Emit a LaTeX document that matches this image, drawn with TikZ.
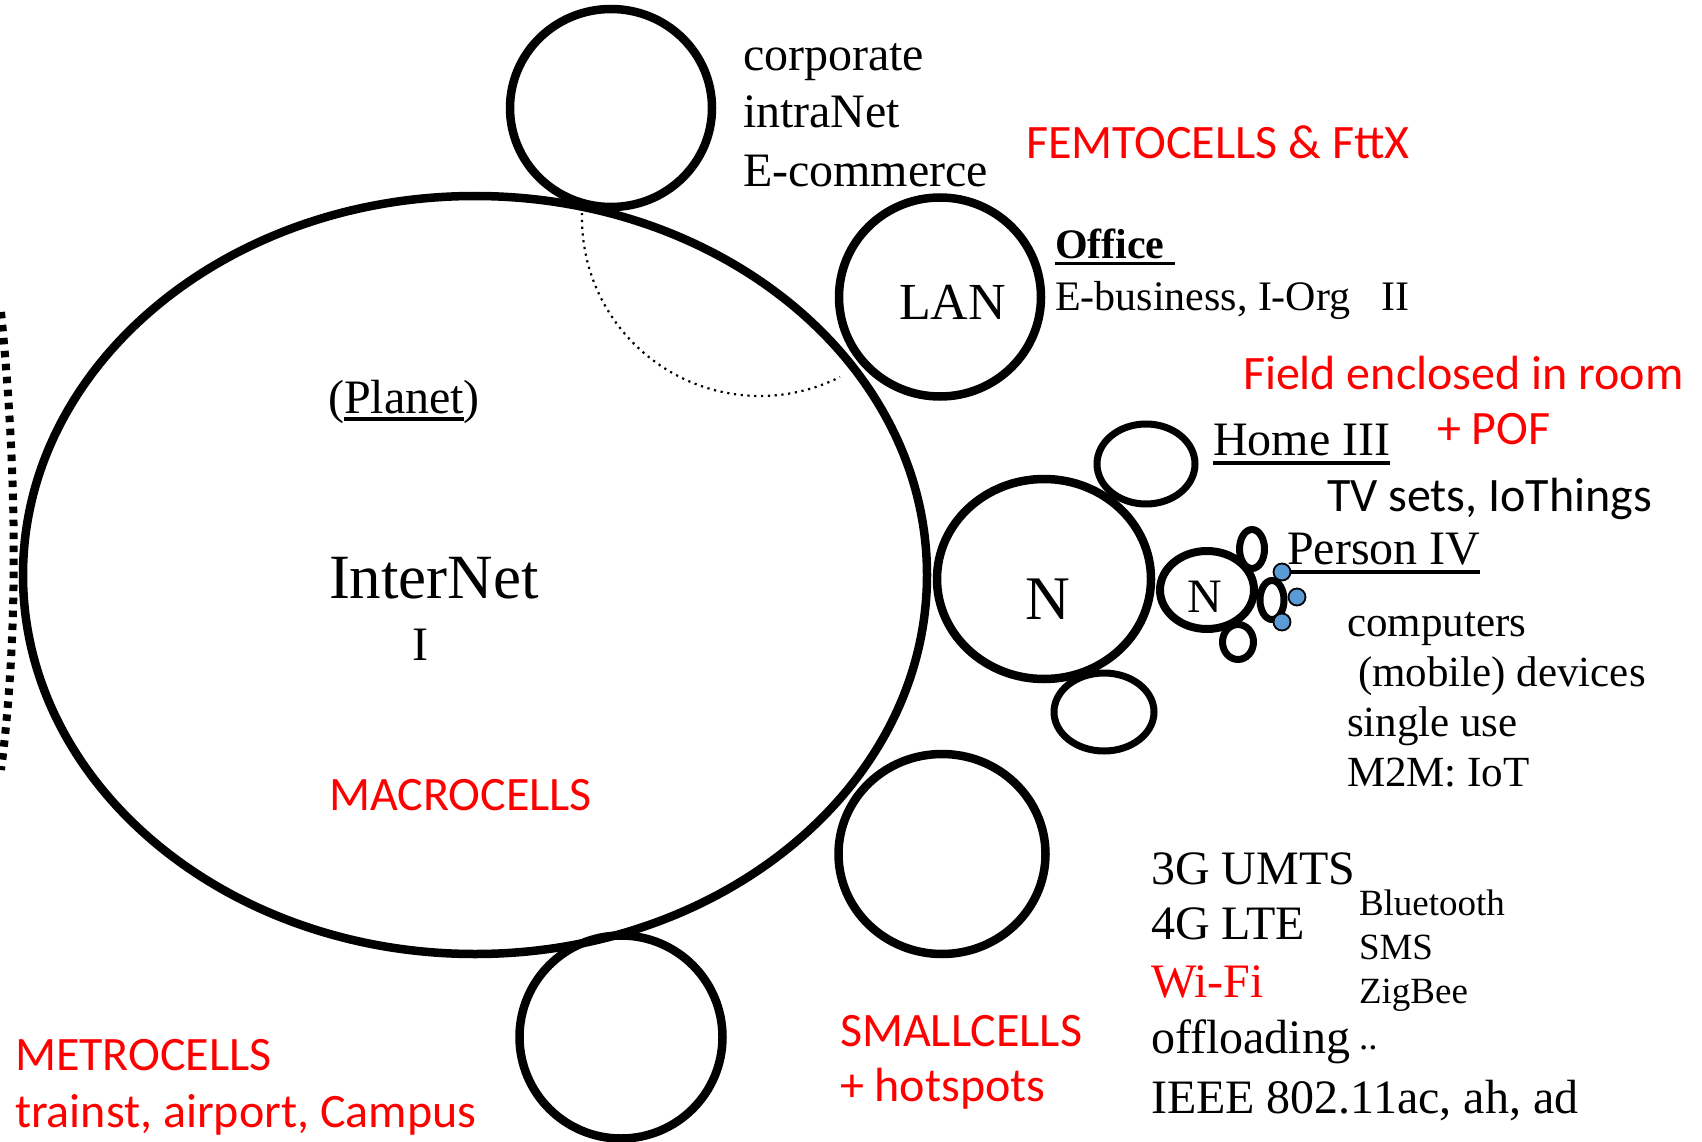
\documentclass[tikz,border=0pt]{standalone}
\usepackage{fontspec}
\setmainfont{Liberation Serif}
\newfontfamily\calibfont{Carlito}
\usetikzlibrary{shapes.geometric}
\definecolor{dotblue}{HTML}{5B9BD5}
\definecolor{redtxt}{HTML}{FF0000}
\tikzset{
  txt/.style={inner sep=0pt, outer sep=0pt, anchor=base west},
  ser/.style={txt, font=\fontsize{48}{56}\selectfont},
  sermid/.style={txt, font=\fontsize{43}{50}\selectfont},
  sersmall/.style={txt, font=\fontsize{37}{44}\selectfont},
  sanstxt/.style={txt, font=\calibfont\fontsize{48}{56}\selectfont},
  redsans/.style={sanstxt, text=redtxt},
  cell/.style={ellipse, draw, line width=8.5pt, inner sep=0pt},
  minicell/.style={ellipse, draw, line width=7pt, inner sep=0pt},
  bluedot/.style={circle, draw=black, fill=dotblue, line width=1.8pt, minimum size=17pt, inner sep=0pt},
  uline/.style={line width=3.4pt},
  dotarc/.style={line width=2.2pt, dash pattern=on 2.2pt off 4.6pt},
  leftdash/.style={line width=8pt, dash pattern=on 6.5pt off 6.5pt}
}
\begin{document}
\begin{tikzpicture}[x=1pt,y=-1pt]
\useasboundingbox (0,0) rectangle (1702,1142);

% cells
\node[cell, minimum width=904pt, minimum height=758pt] (inet) at (475,575) {};
\node[cell, minimum width=202pt, minimum height=198pt] (corpc) at (611,108) {};
\node[cell, minimum width=202pt, minimum height=199pt] (lanc) at (940,297) {};
\node[cell, minimum width=214pt, minimum height=200pt] (nbig) at (1044,579) {};
\node[minicell, minimum width=98pt, minimum height=80pt] (homec) at (1146,464) {};
\node[minicell, minimum width=100pt, minimum height=78pt] (lowc) at (1104,712) {};
\node[cell, line width=8pt, minimum width=94pt, minimum height=78pt] (nsmall) at (1207,590) {};
\node[minicell, minimum width=25pt, minimum height=39pt] (pa) at (1252,549) {};
\node[minicell, minimum width=24pt, minimum height=39pt] (pb) at (1272,600) {};
\node[minicell, minimum width=31pt, minimum height=35pt] (pc) at (1238,642) {};
\node[cell, minimum width=207pt, minimum height=200pt] (smallc) at (942,854) {};
\node[cell, minimum width=203pt, minimum height=203pt] (metroc) at (621,1037) {};

% blue dots
\node[bluedot] (d1) at (1282,572) {};
\node[bluedot] (d2) at (1297,597) {};
\node[bluedot] (d3) at (1282,622) {};

% dotted arc and left dashed curve
\coordinate (arcc) at (760,218);
\draw[dotarc] (arcc) ++(181.6:178) arc[start angle=181.6, end angle=63.3, radius=178];
\coordinate (la) at (1,312);
\coordinate (lb) at (1,770);
\draw[leftdash] (la) .. controls (18,480) and (18,640) .. (lb);

% texts
\node[ser] (t1) at (743,71) {corporate};
\node[ser] (t2) at (743,128) {intraNet};
\node[ser] (t3) at (743,186) {E-commerce};
\node[redsans] (femto) at (1026,159) {FEMTOCELLS \& FttX};

\node[txt, font=\bfseries\fontsize{42}{50}\selectfont] (office) at (1055,258) {Office};
\draw[uline] ([yshift=-5.5pt]office.base west) -- ([yshift=-5.5pt,xshift=10pt]office.base east);
\node[txt, font=\fontsize{42}{50}\selectfont] (ebiz) at (1055,310) {E-business, I-Org~~~II};
\node[txt, font=\fontsize{52}{60}\selectfont] (lan) at (899,319) {LAN};

\node[ser] (planet) at (344,413) {Planet};
\node[ser, anchor=base east] (lpar) at (planet.base west) {(};
\node[ser] (rpar) at (planet.base east) {)};
\draw[uline] ([yshift=-6pt]planet.base west) -- ([yshift=-6pt]planet.base east);

\node[txt, font=\fontsize{63}{70}\selectfont] (internet) at (329,598) {InterNet};
\node[ser] (one) at (412,660) {I};
\node[redsans] (macro) at (329,810) {MACROCELLS};

\node[redsans] (field) at (1243,389) {Field enclosed in room};
\node[redsans] (pof) at (1437,444) {+ POF};
\node[ser] (home) at (1213,455) {Home III};
\draw[uline] ([yshift=-8pt]home.base west) -- ([yshift=-8pt]home.base east);
\node[sanstxt] (tv) at (1327,511) {TV sets, IoThings};

\node[txt, font=\fontsize{62}{70}\selectfont] (nbigt) at (1025,619) {N};
\node[txt, font=\fontsize{48}{56}\selectfont] (nsmallt) at (1187,612) {N};

\node[ser] (person) at (1287,564) {Person IV};
\draw[uline] (d1.east) -- ([yshift=-8pt]person.base east);

\node[sermid] (c1) at (1347,636) {computers};
\node[sermid] (c2) at (1358,686) {(mobile) devices};
\node[sermid] (c3) at (1347,736) {single use};
\node[sermid] (c4) at (1347,786) {M2M: IoT};

\node[ser] (b1) at (1151,884) {3G UMTS};
\node[ser] (b2) at (1151,939) {4G LTE};
\node[ser, text=redtxt] (b3) at (1151,997) {Wi-Fi};
\node[ser] (b4) at (1151,1053) {offloading};
\node[ser] (b5) at (1151,1113) {IEEE 802.11ac, ah, ad};

\node[sersmall] (s1) at (1359,915) {Bluetooth};
\node[sersmall] (s2) at (1359,959) {SMS};
\node[sersmall] (s3) at (1359,1003) {ZigBee};
\node[sersmall] (s4) at (1359,1049) {..};

\node[redsans] (sm1) at (840,1046) {SMALLCELLS};
\node[redsans] (sm2) at (840,1101) {+ hotspots};

\node[redsans] (me1) at (15,1070) {METROCELLS};
\node[redsans] (me2) at (15,1127) {trainst, airport, Campus};
\end{tikzpicture}
\end{document}
